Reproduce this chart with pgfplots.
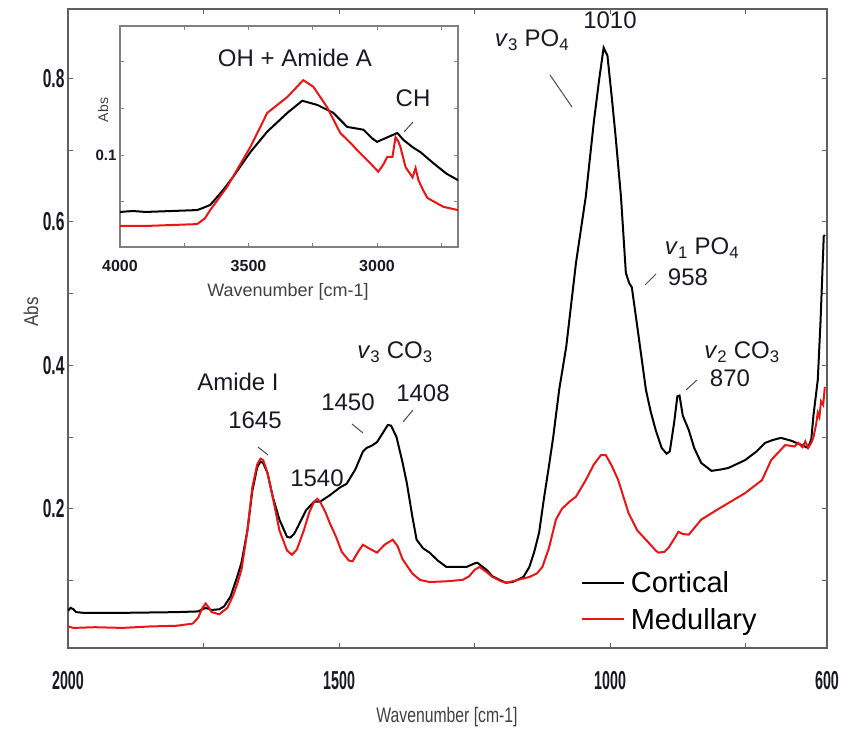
\documentclass[border=0pt]{standalone}
\usepackage{fontspec}
\setmainfont{Liberation Sans}
\usepackage{graphicx}
\usepackage{pgfplots}
\pgfplotsset{compat=1.18}
\definecolor{medred}{RGB}{235,20,20}
\definecolor{framegray}{RGB}{95,95,95}
\definecolor{txt}{RGB}{25,25,35}
\newcommand{\cond}[1]{\scalebox{0.55}[1]{\bfseries #1}}
\newcommand{\condy}[1]{\scalebox{0.6}[1]{\bfseries #1}}
\newcommand{\vv}[1]{\textit{v}\textsubscript{#1}}

\pgfplotstableread{
x y
2000 0.058
1995 0.062
1990 0.060
1985 0.056
1970 0.055
1900 0.055
1800 0.056
1760 0.057
1746 0.062
1735 0.059
1721 0.060
1712 0.064
1700 0.078
1688 0.105
1680 0.125
1669 0.17
1660 0.225
1651 0.258
1645 0.266
1640 0.264
1632 0.250
1622 0.216
1610 0.185
1596 0.161
1590 0.160
1583 0.165
1576 0.175
1561 0.198
1546 0.210
1535 0.210
1517 0.219
1498 0.230
1486 0.235
1470 0.255
1456 0.280
1449 0.285
1440 0.288
1430 0.293
1420 0.305
1410 0.317
1404 0.316
1394 0.300
1383 0.265
1375 0.236
1365 0.190
1357 0.157
1345 0.145
1333 0.139
1318 0.128
1302 0.119
1285 0.119
1265 0.119
1250 0.124
1245 0.125
1235 0.119
1228 0.115
1217 0.106
1201 0.100
1192 0.097
1180 0.098
1160 0.105
1149 0.119
1140 0.140
1131 0.167
1122 0.215
1113 0.259
1105 0.300
1094 0.366
1081 0.426
1063 0.543
1045 0.635
1030 0.740
1020 0.800
1012 0.843
1005 0.832
997 0.774
990 0.720
980 0.635
971 0.529
965 0.515
960 0.509
949 0.449
934 0.366
925 0.335
916 0.310
905 0.285
896 0.277
890 0.280
882 0.320
876 0.357
872 0.358
866 0.330
855 0.310
845 0.285
832 0.264
813 0.253
795 0.255
782 0.257
751 0.268
730 0.280
714 0.292
700 0.296
685 0.299
666 0.295
650 0.290
635 0.285
629 0.297
625 0.330
617 0.380
612 0.460
606 0.580
604 0.582
}\cortical

\pgfplotstableread{
x y
2000 0.036
1990 0.034
1950 0.035
1900 0.034
1850 0.036
1800 0.037
1770 0.040
1760 0.048
1752 0.062
1746 0.068
1740 0.062
1735 0.056
1721 0.053
1706 0.062
1695 0.080
1688 0.095
1680 0.115
1669 0.170
1660 0.230
1651 0.262
1645 0.270
1640 0.268
1632 0.250
1622 0.215
1610 0.170
1596 0.142
1587 0.136
1578 0.143
1565 0.170
1555 0.195
1546 0.210
1540 0.214
1535 0.210
1525 0.195
1517 0.180
1505 0.160
1495 0.140
1482 0.128
1475 0.127
1465 0.140
1456 0.150
1445 0.145
1430 0.139
1416 0.150
1401 0.157
1392 0.148
1383 0.130
1375 0.121
1365 0.110
1351 0.101
1333 0.098
1302 0.099
1272 0.101
1260 0.106
1250 0.115
1241 0.119
1228 0.112
1217 0.105
1201 0.099
1192 0.097
1180 0.099
1160 0.103
1149 0.105
1135 0.110
1125 0.119
1113 0.145
1100 0.185
1089 0.200
1075 0.210
1063 0.217
1045 0.240
1030 0.262
1017 0.275
1008 0.275
997 0.260
985 0.240
966 0.194
950 0.170
934 0.157
916 0.142
911 0.139
900 0.140
892 0.146
882 0.158
874 0.168
866 0.165
855 0.164
832 0.185
800 0.200
751 0.222
720 0.240
703 0.268
677 0.289
660 0.287
653 0.292
645 0.286
640 0.294
635 0.285
629 0.292
625 0.300
620 0.318
617 0.334
614 0.328
611 0.350
607 0.345
604 0.370
}\medullary

\pgfplotstableread{
x y
4000 0.039
3950 0.040
3900 0.039
3800 0.040
3700 0.041
3680 0.043
3649 0.0465
3600 0.062
3560 0.0765
3493 0.103
3427 0.125
3349 0.145
3291 0.158
3232 0.1535
3170 0.145
3116 0.130
3053 0.127
3020 0.118
3000 0.114
2967 0.118
2921 0.1235
2897 0.116
2860 0.108
2831 0.103
2780 0.091
2730 0.080
2685 0.073
}\insetblack

\pgfplotstableread{
x y
4000 0.024
3900 0.024
3800 0.025
3700 0.026
3670 0.032
3649 0.041
3583 0.066
3493 0.1085
3427 0.145
3349 0.162
3287 0.180
3248 0.173
3194 0.151
3143 0.1235
3100 0.112
3077 0.105
3026 0.091
2995 0.082
2975 0.090
2960 0.098
2940 0.098
2928 0.119
2918 0.115
2909 0.1085
2889 0.087
2862 0.076
2850 0.086
2839 0.073
2820 0.062
2804 0.054
2742 0.0445
2685 0.041
}\insetred

\begin{document}
\begin{tikzpicture}
\useasboundingbox (0,0) rectangle (849bp,732bp);
\begin{axis}[
  at={(68bp,84bp)}, anchor=south west,
  scale only axis, width=759bp, height=639bp,
  xmin=600, xmax=2000, x dir=reverse,
  ymin=0.006, ymax=0.897,
  axis line style={framegray, line width=1.4bp},
  tick align=inside,
  major tick length=5bp,
  tick style={framegray, line width=1bp},
  xtick={2000,1750,1500,1250,1000,750,600},
  xticklabels={\cond{2000},,\cond{1500},,\cond{1000},,\cond{600}},
  ytick={0.1,0.2,0.3,0.4,0.5,0.6,0.7,0.8},
  yticklabels={,\condy{0.2},,\condy{0.4},,\condy{0.6},,\condy{0.8}},
  xticklabel style={font=\fontsize{26bp}{28bp}\selectfont, text=txt, yshift=-20bp},
  yticklabel style={font=\fontsize{26bp}{28bp}\selectfont, text=txt},
  legend style={draw=none, fill=none, at={(axis description cs:0.672,0.1262)}, anchor=north west,
    font=\fontsize{29bp}{33bp}\selectfont, row sep=10bp,
    nodes={inner xsep=6bp}},
  legend cell align=left,
  legend image code/.code={\draw[#1] (0bp,0bp) -- (42bp,0bp);},
]
\addplot[black, line width=2bp, legend image post style={line width=1.6bp}] table[x=x,y=y] {\cortical};
\addlegendentry{Cortical}
\addplot[medred, line width=2bp, legend image post style={line width=1.6bp, draw=medred}] table[x=x,y=y] {\medullary};
\addlegendentry{Medullary}
\end{axis}

\begin{axis}[
  at={(120bp,485bp)}, anchor=south west,
  scale only axis, width=338bp, height=221bp,
  xmin=2685, xmax=4000, x dir=reverse,
  ymin=0.0015, ymax=0.238,
  axis background/.style={fill=white},
  axis line style={gray, line width=1.2bp},
  tick align=inside,
  major tick length=4bp,
  tick style={gray, line width=0.8bp},
  xtick={4000,3750,3500,3250,3000,2750},
  xticklabels={4000,,3500,,3000,},
  ytick={0.05,0.1,0.15,0.2},
  yticklabels={,0.1,,},
  xticklabel style={font=\fontsize{16bp}{18bp}\selectfont\bfseries, text=txt, yshift=-10bp},
  yticklabel style={font=\fontsize{15bp}{17bp}\selectfont\bfseries, text=txt},
]
\addplot[black, line width=2bp] table[x=x,y=y] {\insetblack};
\addplot[medred, line width=2bp] table[x=x,y=y] {\insetred};
\end{axis}

% axis labels
\node[text=black!75, font=\fontsize{21bp}{24bp}\selectfont] at (447bp,15bp) {\scalebox{0.75}[1]{Wavenumber [cm-1]}};
\node[rotate=90, text=black!75, font=\fontsize{20bp}{24bp}\selectfont] at (31bp,420bp) {\scalebox{0.85}[1]{Abs}};
\node[text=black!75, font=\fontsize{18bp}{20bp}\selectfont] at (288bp,440bp) {Wavenumber [cm-1]};
\node[rotate=90, text=black!75, font=\fontsize{14bp}{16bp}\selectfont] at (103bp,622bp) {Abs};

% inset annotations
\begin{scope}[every node/.style={text=txt, font=\fontsize{24bp}{26bp}\selectfont}]
\node at (295bp,674bp) {OH + Amide A};
\node at (413bp,634bp) {CH};
\draw[black!70, line width=1bp] (404bp,600bp) -- (413bp,610bp);

% main annotations
\node at (238bp,350bp) {Amide I};
\node at (255bp,312bp) {1645};
\draw[black!70, line width=1bp] (258bp,285bp) -- (268bp,277bp);
\node at (317bp,254bp) {1540};
\node at (348bp,330bp) {1450};
\draw[black!70, line width=1bp] (352bp,308bp) -- (363bp,299bp);
\node at (423bp,339bp) {1408};
\draw[black!70, line width=1bp] (403bp,310bp) -- (413bp,322bp);
\node at (395bp,380bp) {\vv{3} CO\textsubscript{3}};
\node at (532bp,692bp) {\vv{3} PO\textsubscript{4}};
\draw[black!70, line width=1bp] (550bp,657bp) -- (572bp,625bp);
\node at (610bp,712bp) {1010};
\node at (702bp,484bp) {\vv{1} PO\textsubscript{4}};
\node at (688bp,455bp) {958};
\draw[black!70, line width=1bp] (645bp,447bp) -- (656bp,458bp);
\node at (742bp,380bp) {\vv{2} CO\textsubscript{3}};
\node at (730bp,354bp) {870};
\draw[black!70, line width=1bp] (686bp,342bp) -- (697bp,352bp);
\end{scope}
\end{tikzpicture}
\end{document}
